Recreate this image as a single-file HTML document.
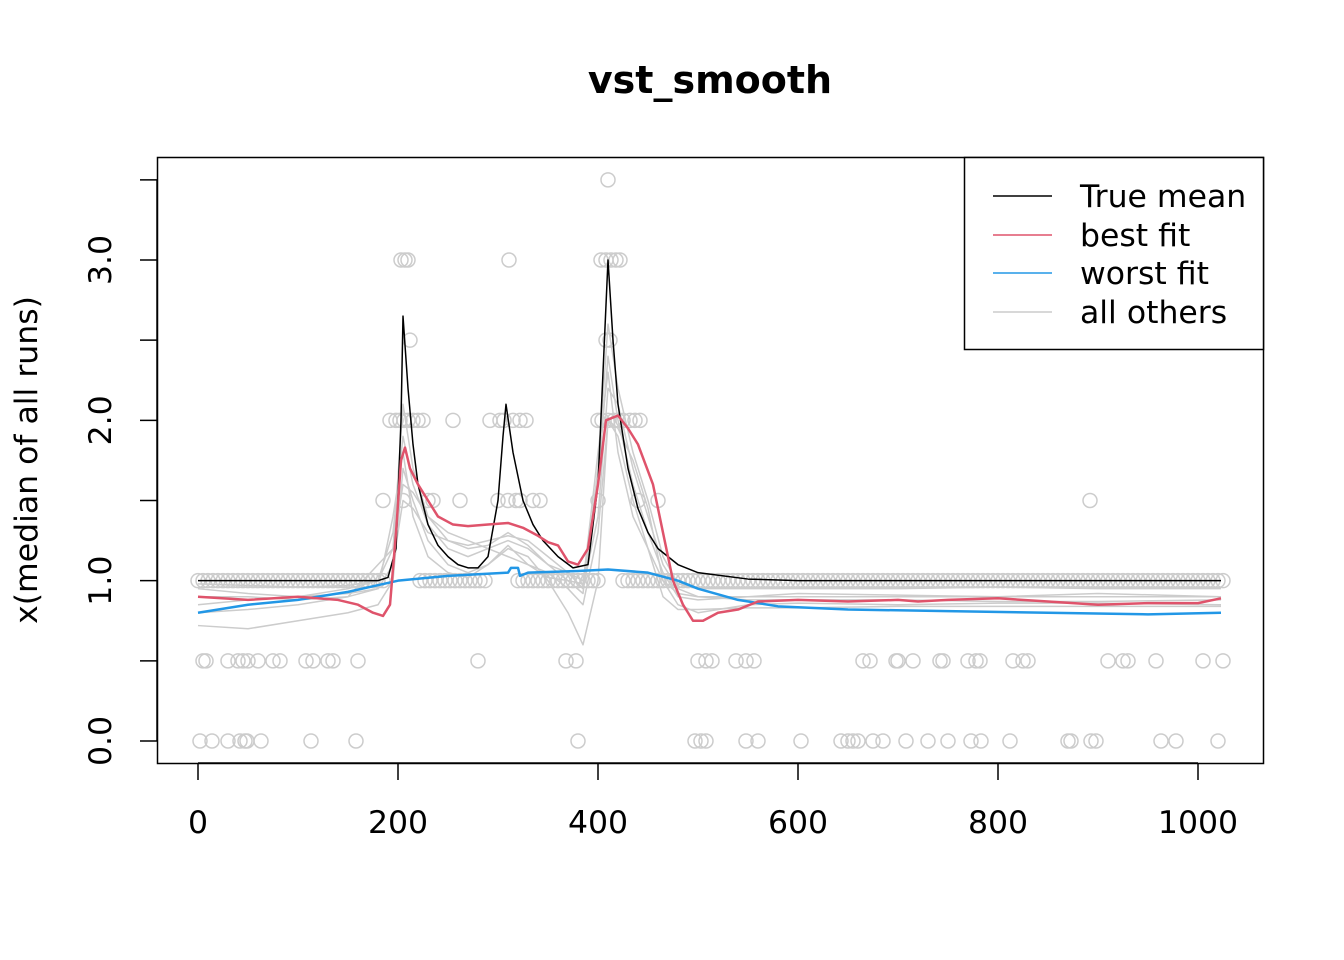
<!DOCTYPE html>
<html><head><meta charset="utf-8"><style>body{margin:0;background:#fff}svg{display:block;font-family:"DejaVu Sans","Liberation Sans",sans-serif}</style></head>
<body>
<svg id="c" width="1344" height="960" viewBox="0 0 1344 960">
<text x="710" y="93" text-anchor="middle" font-size="38" font-weight="bold">vst_smooth</text>
<text transform="translate(37,460) rotate(-90)" text-anchor="middle" font-size="31.5">x(median of all runs)</text>
<g id="marks"></g>
<rect x="157.5" y="157.5" width="1106" height="606" fill="none" stroke="#000" stroke-width="1.5"/>
<g id="axes"></g>
<g>
<rect x="964.5" y="157.5" width="299" height="192" fill="#fff" stroke="#000" stroke-width="1.5"/>
<line x1="993" y1="196" x2="1052" y2="196" stroke="#000" stroke-width="1.5"/>
<text x="1080" y="207" font-size="31.5">True mean</text>
<line x1="993" y1="235" x2="1052" y2="235" stroke="#df536b" stroke-width="1.5"/>
<text x="1080" y="246" font-size="31.5">best fit</text>
<line x1="993" y1="273" x2="1052" y2="273" stroke="#2297e6" stroke-width="1.5"/>
<text x="1080" y="284" font-size="31.5">worst fit</text>
<line x1="993" y1="312" x2="1052" y2="312" stroke="#cccccc" stroke-width="1.5"/>
<text x="1080" y="323" font-size="31.5">all others</text>
</g>
</svg>
<script>
const xTicks=[0,200,400,600,800,1000];
const yTicks=[0,0.5,1,1.5,2,2.5,3,3.5];
const yTickLabels={0:"0.0",1:"1.0",2:"2.0",3:"3.0"};
const grayX=[0,50,100,150,180,195,205,215,230,250,270,290,310,330,350,370,385,400,410,420,435,450,465,480,500,550,600,700,800,900,1023];
const g1=[0.95,0.92,0.9,0.95,1.0,1.3,1.9,1.6,1.35,1.2,1.15,1.2,1.25,1.2,1.1,1.05,1.0,1.6,2.4,2.0,1.6,1.3,1.05,0.9,0.88,0.9,0.9,0.9,0.9,0.9,0.9];
const g2=[0.85,0.88,0.9,0.92,0.95,1.1,1.5,1.45,1.3,1.25,1.22,1.25,1.28,1.25,1.15,1.05,0.95,1.4,2.2,2.1,1.7,1.4,1.1,0.95,0.9,0.88,0.88,0.88,0.87,0.87,0.88];
const g3=[0.72,0.7,0.75,0.8,0.85,1.0,1.7,1.5,1.25,1.1,1.05,1.1,1.2,1.15,1.0,0.8,0.6,1.0,2.0,1.9,1.5,1.2,0.9,0.82,0.82,0.83,0.83,0.84,0.84,0.84,0.84];
const g4=[0.98,0.97,0.96,0.97,1.0,1.2,2.1,1.7,1.4,1.25,1.2,1.22,1.3,1.22,1.1,1.0,0.92,1.7,2.6,2.2,1.8,1.5,1.15,0.98,0.95,0.95,0.95,0.95,0.96,0.95,0.95];
const g5=[0.8,0.82,0.85,0.9,1.1,1.2,1.6,1.55,1.4,1.3,1.25,1.2,1.15,1.1,1.05,0.95,0.85,1.3,2.0,1.95,1.75,1.45,1.0,0.85,0.8,0.85,0.86,0.85,0.86,0.86,0.85];
const g6=[0.9,0.9,0.88,0.9,0.95,1.4,1.8,1.4,1.15,1.05,1.02,1.1,1.22,1.1,1.02,1.0,0.98,1.8,2.3,1.8,1.4,1.2,1.0,0.92,0.9,0.9,0.92,0.91,0.9,0.92,0.9];
const trueX=[0,180,190,198,203,205,210,215,220,230,240,250,260,270,280,290,300,305,308,315,325,335,345,360,375,390,400,405,410,415,420,430,440,450,460,480,500,550,600,1023];
const trueY=[1,1,1.02,1.2,2.0,2.65,2.2,1.85,1.6,1.35,1.22,1.15,1.1,1.08,1.08,1.15,1.5,1.9,2.1,1.8,1.5,1.35,1.25,1.15,1.08,1.1,1.6,2.3,3.0,2.5,2.1,1.7,1.45,1.3,1.2,1.1,1.05,1.01,1.0,1.0];
const bestX=[0,50,100,140,160,175,185,192,198,203,207,212,220,230,240,255,270,290,310,325,340,350,360,370,380,390,400,408,420,430,440,455,465,475,485,495,505,520,540,560,600,650,700,720,750,800,850,900,950,1000,1023];
const bestY=[0.9,0.88,0.9,0.88,0.85,0.8,0.78,0.85,1.3,1.75,1.83,1.7,1.6,1.5,1.4,1.35,1.34,1.35,1.36,1.33,1.28,1.24,1.22,1.12,1.1,1.2,1.6,2.0,2.03,1.95,1.85,1.6,1.3,1.0,0.85,0.75,0.75,0.8,0.82,0.87,0.88,0.87,0.88,0.87,0.88,0.89,0.87,0.85,0.86,0.86,0.89];
const worstX=[0,50,100,150,200,250,280,310,313,320,322,330,380,410,450,480,500,540,580,650,750,850,950,1023];
const worstY=[0.8,0.85,0.88,0.93,1.0,1.03,1.04,1.05,1.08,1.08,1.03,1.05,1.06,1.07,1.05,1.0,0.95,0.88,0.84,0.82,0.81,0.8,0.79,0.8];
const ones=[[0,185],[222,290],[320,400],[425,1025]];
const p0=[2,14,30,42,47,49,63,113,158,380,497,503,508,548,560,603,643,650,655,660,675,685,708,730,750,773,783,812,870,873,893,898,963,978,1020];
const p05=[5,8,30,40,45,50,60,75,82,108,115,130,135,160,280,368,378,500,508,514,538,548,556,665,672,698,700,715,742,745,770,778,782,815,825,830,910,925,930,958,1005,1025];
const p15=[185,205,230,235,262,300,310,318,322,335,342,400,440,460,892];
const p2=[192,198,202,206,210,215,220,225,255,292,302,306,315,322,328,400,404,410,416,420,425,432,437,442];
const p25=[212,408,412];
const p3=[203,207,210,311,403,408,413,418,422];
const p35=[410];

const NS="http://www.w3.org/2000/svg";
const sx=v=>198+v*1.0;
const sy=v=>741-v*160.33;
const marks=document.getElementById('marks'),axes=document.getElementById('axes');
function mk(t,a,p){const e=document.createElementNS(NS,t);for(const k in a)e.setAttribute(k,a[k]);p.appendChild(e);return e;}
function circ(x,y){const c=mk('circle',{cx:sx(x),cy:sy(y),r:7,fill:'none',stroke:'#cccccc','stroke-width':1.5},marks);

}
ones.forEach(r=>{for(let x=r[0];x<=r[1];x+=5)circ(x,1);});
[[p0,0],[p05,0.5],[p15,1.5],[p2,2],[p25,2.5],[p3,3],[p35,3.5]].forEach(([a,y])=>a.forEach(x=>circ(x,y)));
function line(xs,ys,col,w,name){const l=mk('polyline',{points:xs.map((x,i)=>sx(x)+','+sy(ys[i])).join(' '),fill:'none',stroke:col,'stroke-width':w,'stroke-linejoin':'round'},marks);

}
[g1,g2,g3,g4,g5,g6].forEach((g,i)=>line(grayX,g,'#cccccc',1.5,'other-run-'+(i+1)));
line(trueX,trueY,'#000',1.5,'true-mean-line');
line(worstX,worstY,'#2297e6',2.5,'worst-fit-line');
line(bestX,bestY,'#df536b',2.5,'best-fit-line');
mk('line',{x1:sx(0),x2:sx(1000),y1:763,y2:763,stroke:'#000','stroke-width':1.5},axes);
xTicks.forEach(v=>{mk('line',{x1:sx(v),x2:sx(v),y1:763,y2:780,stroke:'#000','stroke-width':1.5},axes);
const t=mk('text',{x:sx(v),y:833,'text-anchor':'middle','font-size':31.5},axes);t.textContent=v;

});
mk('line',{x1:157,x2:157,y1:sy(0),y2:sy(3.5),stroke:'#000','stroke-width':1.5},axes);
yTicks.forEach(v=>{mk('line',{x1:140,x2:157,y1:sy(v),y2:sy(v),stroke:'#000','stroke-width':1.5},axes);
if(yTickLabels[v]!==undefined){const t=mk('text',{transform:`translate(111,${sy(v)}) rotate(-90)`,'text-anchor':'middle','font-size':31.5},axes);t.textContent=yTickLabels[v];

}});
</script>
</body></html>
